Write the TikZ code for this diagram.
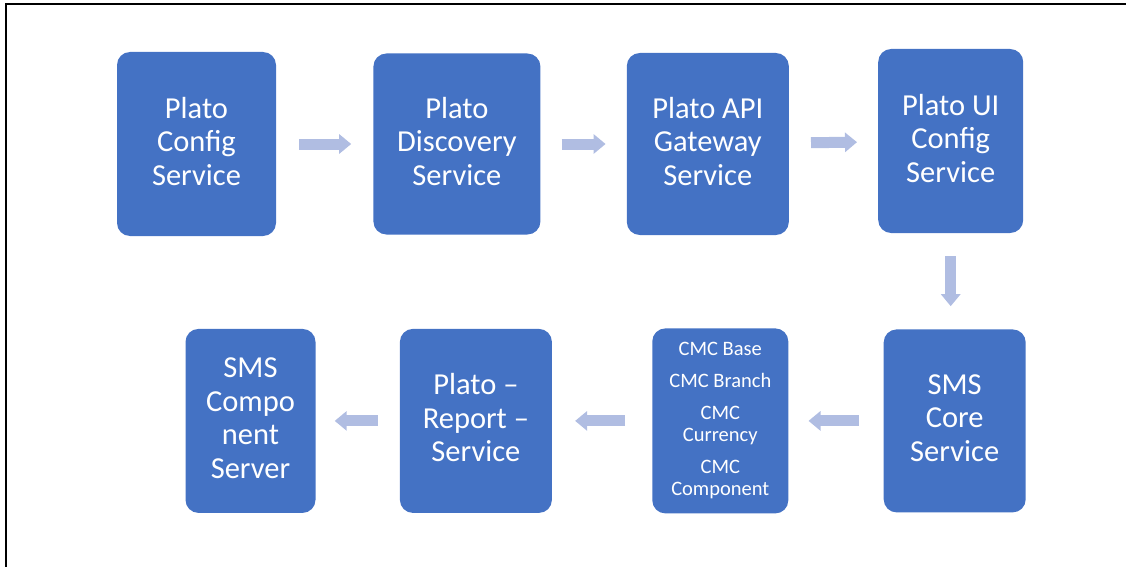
\documentclass[tikz,border=0pt]{standalone}
\usepackage{fontspec}
\setmainfont{Carlito}
\usetikzlibrary{arrows.meta, positioning}
\definecolor{svcblue}{HTML}{4472C4}
\definecolor{flowblue}{RGB}{176,189,226}

\begin{document}
\begin{tikzpicture}[x=1pt, y=-1pt,
        svc/.style={fill=svcblue, rounded corners=13pt, text=white, align=center,
            minimum height=184pt, inner sep=0pt, text depth=6pt,
            font=\fontsize{30.5}{33.5}\selectfont},
        flow/.style={draw=flowblue, line width=11pt, -{Triangle[width=19pt, length=12pt]}}]
    \useasboundingbox (0,0) rectangle (1126,567);
    \draw[line width=2pt] (6,567) -- (6,4) -- (1126,4);

    % top row
    \node[svc, minimum width=159pt] (cfg) at (196.5,144) {Plato\\Config\\Service};
    \node[svc, minimum width=167pt, minimum height=181pt, right=97pt of cfg] (disc) {Plato\\Discovery\\Service};
    \node[svc, minimum width=162pt, minimum height=182pt, right=86pt of disc] (gw) {Plato API\\Gateway\\Service};
    \node[svc, minimum width=145pt, right=89pt of gw, yshift=3pt] (ui) {Plato UI\\Config\\Service};

    % bottom row
    \node[svc, minimum width=142pt, minimum height=183pt, below=96pt of ui, xshift=4pt] (core) {SMS\\Core\\Service};
    \node[svc, minimum width=136pt, minimum height=185pt, left=95pt of core, text depth=4.5pt,
        font=\fontsize{20.5}{22}\selectfont] (cmc) {CMC Base\\[10pt]CMC Branch\\[10pt]CMC\\Currency\\[10pt]CMC\\Component};
    \node[svc, minimum width=152pt, left=100pt of cmc] (rep) {Plato --\\Report --\\Service};
    \node[svc, minimum width=130pt, left=84pt of rep] (sms) {SMS\\Compo\\nent\\Server};

    \draw[flow, shorten <=23pt, shorten >=22pt] (cfg) -- (disc);
    \draw[flow, shorten <=21pt, shorten >=21pt] (disc) -- (gw);
    \draw[flow, shorten <=22pt, shorten >=21pt] (gw) -- (ui);
    \draw[flow, shorten <=23pt, shorten >=23pt] (ui.south) -- (ui.south |- core.north);
    \draw[flow, shorten <=25pt, shorten >=20pt] (core) -- (cmc);
    \draw[flow, shorten <=27pt, shorten >=23pt] (cmc) -- (rep);
    \draw[flow, shorten <=22pt, shorten >=19pt] (rep) -- (sms);
\end{tikzpicture}
\end{document}
